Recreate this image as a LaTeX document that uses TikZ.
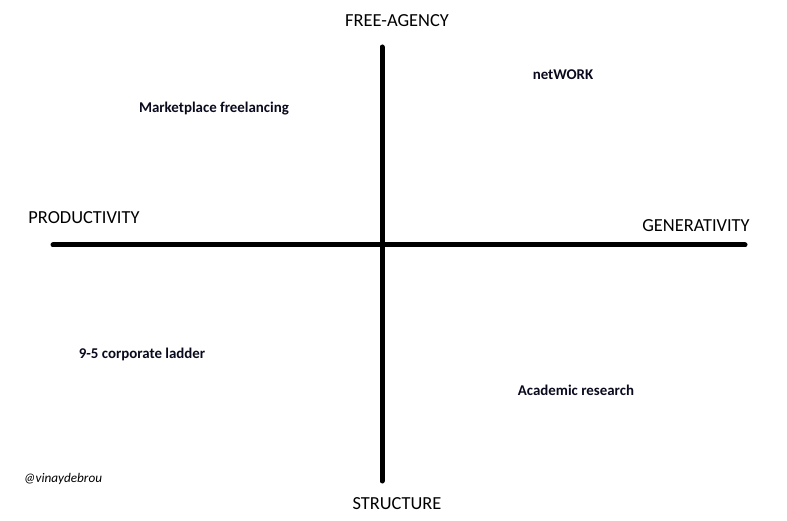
\documentclass[tikz,border=0pt]{standalone}
\usepackage{fontspec}
\setmainfont{Carlito}
\usepackage{tikz}
\usetikzlibrary{positioning}
\definecolor{inkBlack}{HTML}{000000}
\definecolor{labelNavy}{HTML}{0A0A1E}

\begin{document}
\begin{tikzpicture}[
      x=1pt, y=-1pt,
      axislabel/.style={anchor=base, inner sep=0pt, text=inkBlack,
        font=\fontsize{18.4pt}{20pt}\selectfont},
      quadlabel/.style={anchor=base, inner sep=0pt, text=labelNavy,
        font=\fontsize{14.9pt}{16pt}\selectfont\bfseries},
      axisline/.style={draw=inkBlack, line width=5pt, line cap=round}
    ]
      \useasboundingbox[fill=white] (0,0) rectangle (787,521);

      % axis ends
      \coordinate (top) at (382,47);
      \coordinate (bottom) at (382,481);
      \coordinate (left) at (53,245);
      \coordinate (right) at (745,245);

      \draw[axisline] (top) -- (bottom);
      \draw[axisline] (left) -- (right);

      \node[axislabel] (agency) at (397,27) {FREE-AGENCY};
      \node[axislabel] (structure) at (397,509) {STRUCTURE};
      \node[axislabel] (productivity) at (84,224) {PRODUCTIVITY};
      \node[axislabel] (generativity) at (696,232) {GENERATIVITY};

      \node[quadlabel] (market) at (214,113) {Marketplace freelancing};
      \node[quadlabel] (network) at (563,80) {netWORK};
      \node[quadlabel] (ladder) at (142,358) {9-5 corporate ladder};
      \node[quadlabel] (academic) at (576,395) {Academic research};

      \node[anchor=base, inner sep=0pt, font=\fontsize{13.2pt}{15pt}\selectfont\itshape] (handle) at (63,482) {@vinaydebrou};
    \end{tikzpicture}
\end{document}
